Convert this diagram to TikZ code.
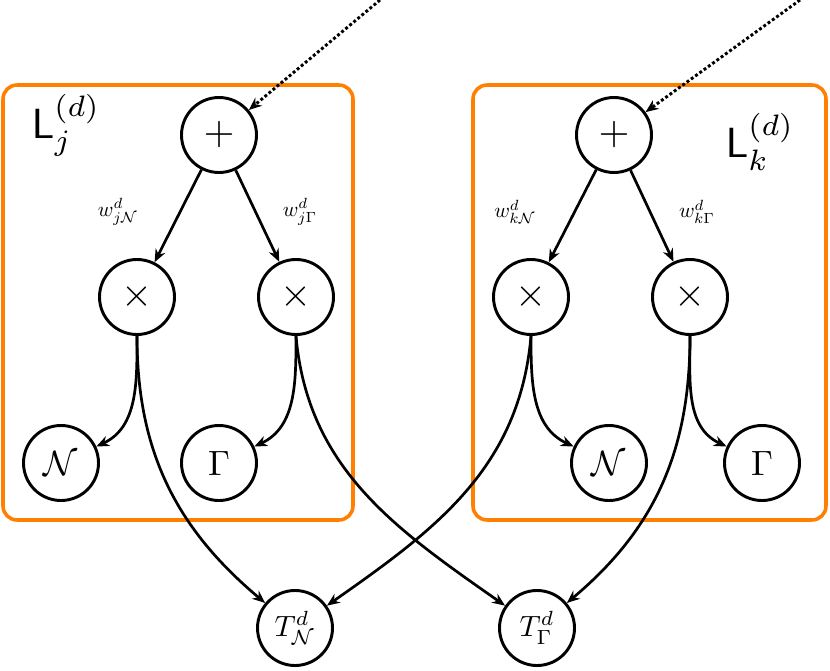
\documentclass[tikz,border=0pt]{standalone}
\usepackage{amsmath,amssymb}
\usetikzlibrary{arrows.meta}
\definecolor{boxor}{RGB}{255,128,0}
\newcommand{\sbx}[2]{\scalebox{#1}{#2}}
\begin{document}
\begin{tikzpicture}[x=0.03cm,y=-0.03cm,
  op/.style={circle,draw,line width=2.5pt,minimum size=2.25cm,inner sep=0pt},
  con/.style={line width=2.3pt,-{Stealth[length=11pt,width=9pt]}},
  dot/.style={line width=2.5pt,dotted,-{Stealth[length=11pt,width=9pt]}},
  obox/.style={draw=boxor,line width=3pt,rounded corners=12pt}]
\useasboundingbox (0,0) rectangle (830,671);
\draw[obox] (3,85) rectangle (353,520);
\draw[obox] (473,85) rectangle (826,520);
\node[op] (pl) at (219,135) {\sbx{3.4}{$+$}};
\node[op] (tl1) at (137,297) {\sbx{3.4}{$\times$}};
\node[op] (tl2) at (296,297) {\sbx{3.4}{$\times$}};
\node[op] (nl) at (61,463) {\sbx{3}{$\mathcal{N}$}};
\node[op] (gl) at (219,463) {\sbx{3}{$\Gamma$}};
\node[op] (pr) at (614,135) {\sbx{3.4}{$+$}};
\node[op] (tr1) at (531,297) {\sbx{3.4}{$\times$}};
\node[op] (tr2) at (690,297) {\sbx{3.4}{$\times$}};
\node[op] (nr) at (609,463) {\sbx{3}{$\mathcal{N}$}};
\node[op] (gr) at (762,463) {\sbx{3}{$\Gamma$}};
\node[op] (tn) at (295,628) {\sbx{2.5}{$T^d_{\mathcal{N}}$}};
\node[op] (tg) at (537,628) {\sbx{2.5}{$T^d_{\Gamma}$}};
\coordinate (sl) at (380,0);
\coordinate (sr) at (800,0);
\draw[dot] (sl) -- (pl);
\draw[dot] (sr) -- (pr);
\node (ll) at (66,125) {\sbx{3.6}{$\mathsf{L}_j^{(d)}$}};
\node (lr) at (760,142) {\sbx{3.6}{$\mathsf{L}_k^{(d)}$}};
\draw[con] (pl) -- (tl1);
\draw[con] (pl) -- (tl2);
\draw[con] (pr) -- (tr1);
\draw[con] (pr) -- (tr2);
\node (w1) at (118,212) {\sbx{1.8}{$w^d_{j\mathcal{N}}$}};
\node (w2) at (300,212) {\sbx{1.8}{$w^d_{j\Gamma}$}};
\node (w3) at (515,212) {\sbx{1.8}{$w^d_{k\mathcal{N}}$}};
\node (w4) at (697,212) {\sbx{1.8}{$w^d_{k\Gamma}$}};
\draw[con] (tl1.south) to[out=-90,in=25] (nl);
\draw[con] (tl2.south) to[out=-90,in=25] (gl);
\draw[con] (tr1.south) to[out=-90,in=155] (nr);
\draw[con] (tr2.south) to[out=-90,in=155] (gr);
\draw[con] (tl1.south) to[out=-90,in=140] (tn);
\draw[con] (tl2.south) to[out=-85,in=145] (tg);
\draw[con] (tr1.south) to[out=-95,in=35] (tn);
\draw[con] (tr2.south) to[out=-90,in=40] (tg);
\end{tikzpicture}
\end{document}
